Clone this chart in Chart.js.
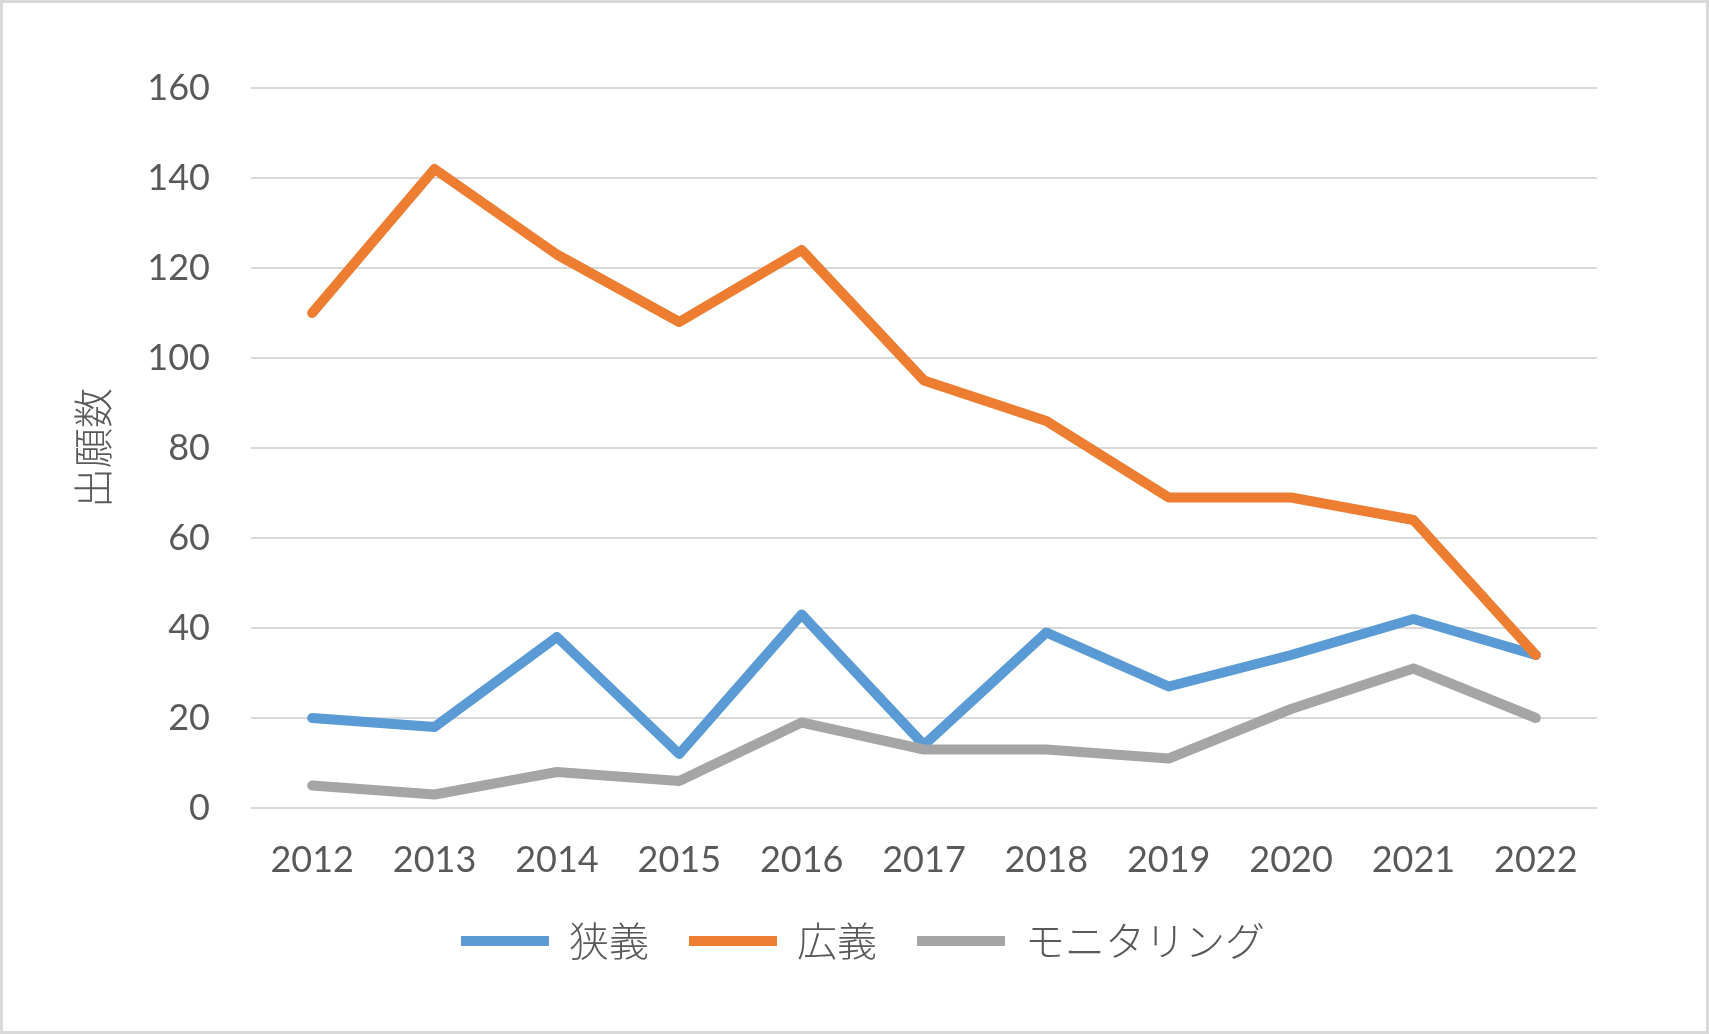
<!DOCTYPE html>
<html>
<head>
<meta charset="utf-8">
<script src="https://cdn.jsdelivr.net/npm/chart.js@4.4.1/dist/chart.umd.min.js"></script>
<style>
    html, body { margin: 0; padding: 0; background: #fff; }
    #wrap {
        width: 1709px;
        height: 1034px;
        box-sizing: border-box;
        border: 3px solid #d9d9d9;
        position: relative;
    }
</style>
</head>
<body>
<div id="wrap"><canvas id="chart" width="1703" height="1028"></canvas></div>
<script>
// 出願数 per year
const years = ['2012', '2013', '2014', '2015', '2016', '2017', '2018', '2019', '2020', '2021', '2022'];
const narrow = [20, 18, 38, 12, 43, 14, 39, 27, 34, 42, 34];      // 狭義
const broad = [110, 142, 123, 108, 124, 95, 86, 69, 69, 64, 34];  // 広義
const monitoring = [5, 3, 8, 6, 19, 13, 13, 11, 22, 31, 20];      // モニタリング
const yTicks = [0, 20, 40, 60, 80, 100, 120, 140, 160];

const textColor = '#595959';
const jpFont = "'Noto Sans CJK JP', 'Noto Sans', sans-serif";

function line(label, data, color, order) {
    return {
        label: label,
        data: data,
        borderColor: color,
        backgroundColor: color,
        borderWidth: 10,
        borderCapStyle: 'round',
        borderJoinStyle: 'round',
        pointRadius: 0,
        pointHoverRadius: 0,
        tension: 0,
        fill: false,
        order: order
    };
}

// Excel centres the legend on the whole chart, not on the plot
const legendShift = {
    id: 'legendShift',
    afterLayout(chart) {
        const lg = chart.legend;
        if (!lg) return;
        lg.left += 63;
        lg.right += 63;
    }
};

new Chart(document.getElementById('chart'), {
    type: 'line',
    data: {
        labels: years,
        datasets: [
            line('狭義', narrow, '#5b9bd5', 3),
            line('広義', broad, '#ed7d31', 2),
            line('モニタリング', monitoring, '#a5a5a5', 1)
        ]
    },
    options: {
        responsive: false,
        animation: false,
        layout: { padding: { top: 85, right: 109, bottom: 60, left: 0 } },
        plugins: {
            tooltip: { enabled: false },
            legend: {
                position: 'bottom',
                labels: {
                    usePointStyle: true,
                    pointStyle: 'line',
                    pointStyleWidth: 88,
                    padding: 40,
                    color: textColor,
                    font: { family: jpFont, size: 40, weight: 300 },
                    sort: (a, b) => a.datasetIndex - b.datasetIndex
                }
            }
        },
        scales: {
            x: {
                offset: true,
                grid: { display: false, drawTicks: false },
                border: { display: false },
                ticks: {
                    padding: 31,
                    color: textColor,
                    font: { family: "Lato, 'Noto Sans', sans-serif", size: 36 },
                    maxRotation: 0
                },
                afterFit: (s) => { s.height = 73; }
            },
            y: {
                min: 0,
                max: 160,
                afterBuildTicks: (s) => { s.ticks = yTicks.map((v) => ({ value: v })); },
                grid: { color: '#d9d9d9', lineWidth: 2, drawTicks: false },
                border: { display: false },
                ticks: {
                    padding: 41,
                    color: textColor,
                    font: { family: "Lato, 'Noto Sans', sans-serif", size: 36 }
                },
                title: {
                    display: true,
                    text: '出願数',
                    color: textColor,
                    font: { family: jpFont, size: 40, weight: 300 },
                    padding: { top: 66, bottom: 0 }
                },
                afterFit: (s) => { s.width = 248; }
            }
        }
    },
    plugins: [legendShift]
});
</script>
</body>
</html>
